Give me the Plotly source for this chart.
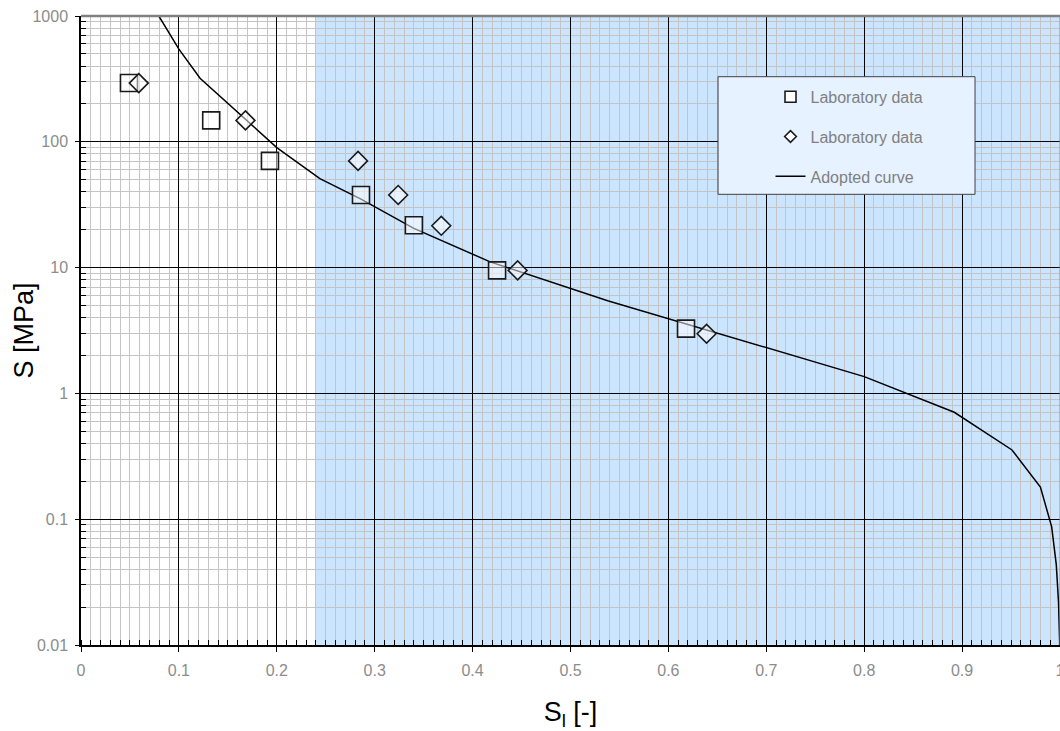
import plotly.graph_objects as go

# Laboratory measurements: degree of saturation S_l [-] vs suction S [MPa]
lab_sq_sl = [0.049, 0.133, 0.193, 0.286, 0.340, 0.425, 0.618]
lab_sq_s = [293, 148, 70.5, 37.8, 21.7, 9.5, 3.27]

lab_dm_sl = [0.059, 0.168, 0.283, 0.324, 0.368, 0.446, 0.639]
lab_dm_s = [293, 148, 70.5, 37.8, 21.5, 9.5, 2.98]

# Adopted retention curve
curve_sl = [0.0795, 0.100, 0.1216, 0.168, 0.200, 0.244, 0.286, 0.340, 0.418,
            0.538, 0.800, 0.892, 0.951, 0.980, 0.9915, 0.9962, 0.9985, 0.9996, 1.0]
curve_s = [1000, 545, 320, 150, 90, 51, 35, 20.5, 11.1,
           5.46, 1.36, 0.708, 0.355, 0.18, 0.087, 0.0435, 0.0218, 0.0109, 0.0054]

# Shaded saturation band
band_sl = [0.24, 1.0]

y_tick_vals = [0.01, 0.1, 1, 10, 100, 1000]
y_tick_text = ["0.01", "0.1", "1", "10", "100", "1000"]
x_tick_vals = [0, 0.1, 0.2, 0.3, 0.4, 0.5, 0.6, 0.7, 0.8, 0.9, 1.0]
x_tick_text = ["0", "0.1", "0.2", "0.3", "0.4", "0.5", "0.6", "0.7", "0.8", "0.9", "1"]

FONT = "Liberation Sans, Arial, sans-serif"
TICK_GREY = "#8c8c8c"
MARKER_FILL = "rgba(255,255,255,0.5)"
MARKER_EDGE = "#1a1a1a"

fig = go.Figure()

fig.add_trace(go.Scatter(
    x=curve_sl, y=curve_s, mode="lines", name="Adopted curve",
    line=dict(color="black", width=1.5), showlegend=False,
))
fig.add_trace(go.Scatter(
    x=lab_sq_sl, y=lab_sq_s, mode="markers", name="Laboratory data",
    marker=dict(symbol="square", size=17, color=MARKER_FILL,
                line=dict(color=MARKER_EDGE, width=1.6)),
    showlegend=False,
))
fig.add_trace(go.Scatter(
    x=lab_dm_sl, y=lab_dm_s, mode="markers", name="Laboratory data",
    marker=dict(symbol="diamond", size=14.5, color=MARKER_FILL,
                line=dict(color=MARKER_EDGE, width=1.6)),
    showlegend=False,
))

# Legend entries (smaller symbols than on the plot)
fig.add_trace(go.Scatter(
    x=[None], y=[None], mode="markers", name="Laboratory data",
    marker=dict(symbol="square", size=11, color="white",
                line=dict(color=MARKER_EDGE, width=1.6)),
    legendrank=1, legendgroup="a",
))
fig.add_trace(go.Scatter(
    x=[None], y=[None], mode="markers", name="Laboratory data",
    marker=dict(symbol="diamond", size=9, color="white",
                line=dict(color=MARKER_EDGE, width=1.6)),
    legendrank=2, legendgroup="b",
))
fig.add_trace(go.Scatter(
    x=[None], y=[None], mode="lines", name="Adopted curve",
    line=dict(color="black", width=1.5), legendrank=3, legendgroup="c",
))

shapes = [
    # translucent blue saturation band, over the grid but under the data
    dict(type="rect", xref="x", yref="paper", x0=band_sl[0], x1=band_sl[1],
         y0=0, y1=1, fillcolor="rgba(142,197,255,0.45)", line=dict(width=0),
         layer="between"),
    # grey frame on top and right
    dict(type="line", xref="paper", yref="paper", x0=0, x1=1, y0=1, y1=1,
         line=dict(color="#808080", width=2.5), layer="above"),
    dict(type="line", xref="paper", yref="paper", x0=1, x1=1, y0=0, y1=1,
         line=dict(color="#909090", width=1), layer="above"),
    # legend box
    dict(type="rect", xref="paper", yref="paper", x0=0.6507, x1=0.9132,
         y0=0.7165, y1=0.9035, fillcolor="#e6f2ff",
         line=dict(color="#404040", width=1), layer="above"),
]

fig.update_layout(
    width=1060, height=731,
    margin=dict(l=81, r=0, t=16, b=86, autoexpand=False),
    paper_bgcolor="white", plot_bgcolor="white",
    font=dict(family=FONT, size=16, color=TICK_GREY),
    shapes=shapes,
    showlegend=True,
    legend=dict(
        x=0.7043, xanchor="left", y=0.8986, yanchor="top",
        bgcolor="rgba(0,0,0,0)", borderwidth=0,
        font=dict(family=FONT, size=16, color="#808080"),
        tracegroupgap=16,
    ),
    annotations=[
        dict(text="S [MPa]", xref="paper", yref="paper", x=-0.0592, y=0.5,
             xanchor="center", yanchor="middle", textangle=-90, showarrow=False,
             font=dict(family=FONT, size=27, color="black")),
    ],
    xaxis=dict(
        range=[0, 1], tickvals=x_tick_vals, ticktext=x_tick_text,
        automargin=False,
        showgrid=True, gridcolor="black", gridwidth=1,
        zeroline=False, showline=True, linecolor="black", linewidth=2,
        ticks="outside", ticklen=5, tickcolor="black", tickwidth=1,
        ticklabelstandoff=5, ticklabeloverflow="allow",
        tickfont=dict(family=FONT, size=16, color=TICK_GREY),
        minor=dict(dtick=0.01, showgrid=True, gridcolor="#c4c4c4", gridwidth=1,
                   ticks="inside", ticklen=5, tickcolor="black", tickwidth=1),
        title=dict(text="S<sub>l</sub> [-]", font=dict(family=FONT, size=27, color="black"),
                   standoff=26),
    ),
    yaxis=dict(
        type="log", range=[-2, 3], tickvals=y_tick_vals, ticktext=y_tick_text,
        automargin=False,
        showgrid=True, gridcolor="black", gridwidth=1,
        zeroline=False, showline=True, linecolor="black", linewidth=1.5,
        ticks="outside", ticklen=4, tickcolor="black", tickwidth=1,
        ticklabelstandoff=4,
        tickfont=dict(family=FONT, size=16, color=TICK_GREY),
        minor=dict(dtick="D1", showgrid=True, gridcolor="#c4c4c4", gridwidth=1,
                   ticks="inside", ticklen=5, tickcolor="black", tickwidth=1),
    ),
)

fig.write_html("out.html")
